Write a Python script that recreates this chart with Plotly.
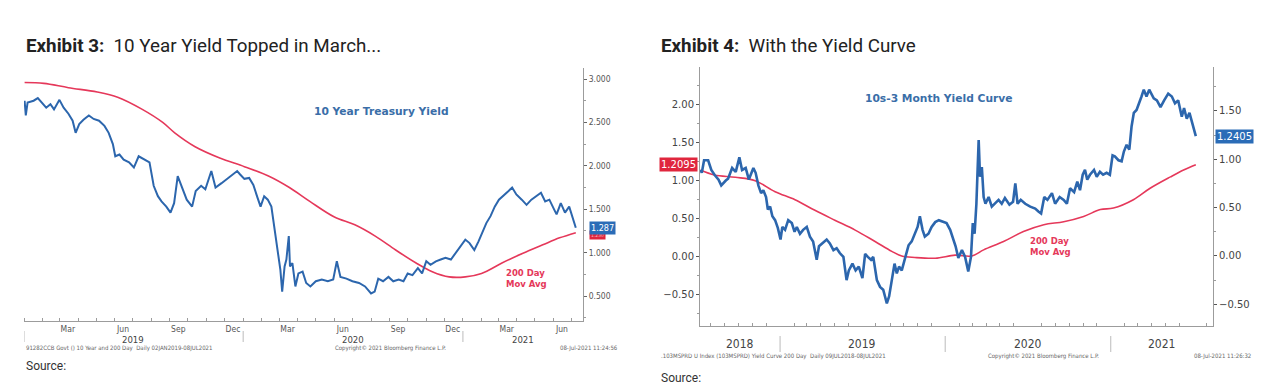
import plotly.graph_objects as go
import pandas as pd

# ---------------- Exhibit 3 data: 10 Year Treasury Yield ----------------
ust10_dates = [
    "2019-01-02", "2019-01-04", "2019-01-07", "2019-01-17", "2019-01-24", "2019-01-31", "2019-02-07",
    "2019-02-14", "2019-02-20", "2019-03-01", "2019-03-08", "2019-03-16", "2019-03-23", "2019-03-28",
    "2019-04-03", "2019-04-10", "2019-04-19", "2019-04-27", "2019-05-06", "2019-05-15", "2019-05-22",
    "2019-05-29", "2019-06-02", "2019-06-09", "2019-06-16", "2019-06-25", "2019-07-03", "2019-07-11",
    "2019-07-20", "2019-07-29", "2019-08-05", "2019-08-12", "2019-08-18", "2019-08-26", "2019-09-02",
    "2019-09-08", "2019-09-14", "2019-09-21", "2019-09-29", "2019-10-08", "2019-10-14", "2019-10-23",
    "2019-10-30", "2019-11-09", "2019-11-16", "2019-11-26", "2019-12-07", "2019-12-13", "2019-12-22",
    "2019-12-27", "2020-01-03", "2020-01-11", "2020-01-18", "2020-01-25", "2020-01-30", "2020-02-05",
    "2020-02-11", "2020-02-17", "2020-02-23", "2020-02-28", "2020-03-03", "2020-03-06", "2020-03-10",
    "2020-03-13", "2020-03-17", "2020-03-19", "2020-03-23", "2020-03-28", "2020-04-02", "2020-04-09",
    "2020-04-15", "2020-04-22", "2020-05-01", "2020-05-11", "2020-05-21", "2020-05-30", "2020-06-05",
    "2020-06-11", "2020-06-21", "2020-07-01", "2020-07-12", "2020-07-22", "2020-08-01", "2020-08-07",
    "2020-08-13", "2020-08-21", "2020-08-30", "2020-09-07", "2020-09-16", "2020-09-24", "2020-10-01",
    "2020-10-09", "2020-10-18", "2020-10-25", "2020-11-01", "2020-11-08", "2020-11-17", "2020-11-25",
    "2020-12-03", "2020-12-12", "2020-12-21", "2020-12-29", "2021-01-05", "2021-01-12", "2021-01-20",
    "2021-01-27", "2021-02-02", "2021-02-09", "2021-02-16", "2021-02-23", "2021-03-02", "2021-03-09",
    "2021-03-18", "2021-03-24", "2021-03-31", "2021-04-09", "2021-04-17", "2021-04-25", "2021-05-04",
    "2021-05-11", "2021-05-18", "2021-05-25", "2021-06-01", "2021-06-06", "2021-06-13", "2021-06-20",
    "2021-06-27", "2021-07-01", "2021-07-08",
]
ust10_vals = [
    2.75, 2.58, 2.73, 2.75, 2.78, 2.73, 2.67,
    2.71, 2.65, 2.76, 2.67, 2.60, 2.52, 2.38,
    2.48, 2.53, 2.58, 2.54, 2.52, 2.46, 2.38,
    2.25, 2.11, 2.13, 2.07, 2.04, 1.98, 2.11,
    2.07, 2.04, 1.77, 1.65, 1.59, 1.53, 1.46,
    1.57, 1.88, 1.75, 1.61, 1.53, 1.71, 1.77,
    1.73, 1.94, 1.75, 1.80, 1.86, 1.90, 1.94,
    1.90, 1.85, 1.86, 1.78, 1.63, 1.53, 1.65,
    1.61, 1.53, 1.26, 1.01, 0.80, 0.55, 0.84,
    0.92, 1.19, 0.84, 0.88, 0.61, 0.76, 0.78,
    0.65, 0.61, 0.67, 0.69, 0.67, 0.69, 0.90,
    0.72, 0.70, 0.67, 0.65, 0.61, 0.53, 0.55,
    0.70, 0.67, 0.72, 0.67, 0.69, 0.67, 0.76,
    0.74, 0.82, 0.76, 0.90, 0.86, 0.90, 0.92,
    0.94, 0.92, 1.01, 1.09, 1.15, 1.11, 1.03,
    1.13, 1.23, 1.34, 1.42, 1.53, 1.61, 1.65,
    1.71, 1.75, 1.67, 1.61, 1.55, 1.61, 1.65,
    1.69, 1.59, 1.61, 1.51, 1.44, 1.57, 1.46,
    1.53, 1.44, 1.287,
]
ust10_ma_dates = [
    "2019-01-02", "2019-02-03", "2019-03-16", "2019-05-03", "2019-06-06", "2019-07-17", "2019-08-20",
    "2019-09-09", "2019-10-13", "2019-11-23", "2020-01-03", "2020-02-13", "2020-03-18", "2020-04-21",
    "2020-06-01", "2020-07-05", "2020-08-08", "2020-09-11", "2020-10-15", "2020-11-11", "2020-12-09",
    "2021-01-05", "2021-02-01", "2021-03-07", "2021-04-10", "2021-05-14", "2021-06-11", "2021-07-08",
]
ust10_ma_vals = [
    2.96, 2.95, 2.90, 2.85, 2.79, 2.65, 2.50,
    2.38, 2.22, 2.09, 1.99, 1.88, 1.75, 1.59,
    1.41, 1.32, 1.19, 1.03, 0.88, 0.78, 0.72,
    0.72, 0.76, 0.88, 0.99, 1.09, 1.17, 1.23,
]

# ---------------- Exhibit 4 data: 10s-3 Month Yield Curve ----------------
curve_dates = [
    "2018-07-09", "2018-07-12", "2018-07-17", "2018-07-26", "2018-08-02", "2018-08-09", "2018-08-18",
    "2018-08-24", "2018-09-03", "2018-09-08", "2018-09-17", "2018-09-25", "2018-10-03", "2018-10-09",
    "2018-10-17", "2018-10-24", "2018-11-03", "2018-11-08", "2018-11-14", "2018-11-20", "2018-11-25",
    "2018-12-01", "2018-12-05", "2018-12-10", "2018-12-15", "2018-12-21", "2018-12-27", "2019-01-02",
    "2019-01-06", "2019-01-12", "2019-01-19", "2019-01-27", "2019-02-02", "2019-02-07", "2019-02-14",
    "2019-02-21", "2019-03-01", "2019-03-08", "2019-03-15", "2019-03-23", "2019-03-28", "2019-04-04",
    "2019-04-14", "2019-04-21", "2019-04-29", "2019-05-06", "2019-05-13", "2019-05-21", "2019-05-28",
    "2019-06-02", "2019-06-10", "2019-06-17", "2019-06-24", "2019-07-02", "2019-07-08", "2019-07-14",
    "2019-07-21", "2019-07-26", "2019-08-03", "2019-08-10", "2019-08-17", "2019-08-25", "2019-08-30",
    "2019-09-05", "2019-09-11", "2019-09-16", "2019-09-21", "2019-09-27", "2019-10-04", "2019-10-12",
    "2019-10-19", "2019-10-26", "2019-11-01", "2019-11-06", "2019-11-12", "2019-11-17", "2019-11-25",
    "2019-12-02", "2019-12-10", "2019-12-18", "2019-12-28", "2020-01-04", "2020-01-12", "2020-01-19",
    "2020-01-24", "2020-01-30", "2020-02-07", "2020-02-14", "2020-02-21", "2020-02-27", "2020-03-02",
    "2020-03-06", "2020-03-10", "2020-03-15", "2020-03-18", "2020-03-22", "2020-03-26", "2020-03-30",
    "2020-04-06", "2020-04-13", "2020-04-20", "2020-04-28", "2020-05-05", "2020-05-12", "2020-05-22",
    "2020-05-30", "2020-06-04", "2020-06-09", "2020-06-16", "2020-06-26", "2020-07-07", "2020-07-18",
    "2020-07-25", "2020-07-31", "2020-08-07", "2020-08-14", "2020-08-24", "2020-08-31", "2020-09-10",
    "2020-09-19", "2020-09-26", "2020-10-03", "2020-10-12", "2020-10-19", "2020-10-25", "2020-10-31",
    "2020-11-05", "2020-11-10", "2020-11-16", "2020-11-25", "2020-12-01", "2020-12-08", "2020-12-15",
    "2020-12-23", "2020-12-30", "2021-01-05", "2021-01-10", "2021-01-18", "2021-01-25", "2021-01-30",
    "2021-02-05", "2021-02-11", "2021-02-16", "2021-02-21", "2021-02-27", "2021-03-05", "2021-03-10",
    "2021-03-15", "2021-03-21", "2021-03-27", "2021-04-01", "2021-04-06", "2021-04-13", "2021-04-21",
    "2021-04-29", "2021-05-08", "2021-05-16", "2021-05-23", "2021-05-30", "2021-06-07", "2021-06-12",
    "2021-06-18", "2021-06-24", "2021-06-29", "2021-07-08",
]
curve_vals = [
    0.89, 0.86, 0.99, 0.99, 0.89, 0.84, 0.79,
    0.73, 0.78, 0.80, 0.91, 0.87, 1.02, 0.89,
    0.91, 0.79, 0.91, 0.86, 0.73, 0.65, 0.68,
    0.61, 0.48, 0.51, 0.41, 0.37, 0.29, 0.17,
    0.30, 0.27, 0.37, 0.34, 0.25, 0.30, 0.23,
    0.27, 0.30, 0.20, 0.15, -0.04, 0.10, 0.13,
    0.17, 0.13, 0.06, 0.08, 0.03, -0.01, -0.25,
    -0.15, -0.08, -0.15, -0.11, -0.23, 0.02, -0.01,
    -0.04, -0.01, -0.25, -0.32, -0.35, -0.49, -0.42,
    -0.25, -0.08, -0.18, -0.11, -0.15, -0.04, 0.11,
    0.15, 0.23, 0.30, 0.41, 0.27, 0.20, 0.23,
    0.30, 0.35, 0.37, 0.35, 0.34, 0.27, 0.17,
    0.10, -0.02, 0.06, -0.01, -0.16, -0.01, 0.34,
    0.23, 0.54, 1.20, 0.82, 0.92, 0.61, 0.54,
    0.61, 0.51, 0.54, 0.58, 0.54, 0.60, 0.53,
    0.56, 0.75, 0.54, 0.58, 0.54, 0.51, 0.49,
    0.46, 0.44, 0.61, 0.58, 0.65, 0.54, 0.61,
    0.58, 0.54, 0.70, 0.66, 0.77, 0.68, 0.84,
    0.89, 0.79, 0.84, 0.89, 0.82, 0.87, 0.84,
    0.86, 0.84, 1.04, 1.03, 0.99, 0.98, 1.08,
    1.15, 1.10, 1.34, 1.48, 1.51, 1.58, 1.65,
    1.72, 1.65, 1.72, 1.68, 1.63, 1.61, 1.54,
    1.61, 1.68, 1.65, 1.58, 1.61, 1.44, 1.53,
    1.42, 1.48, 1.39, 1.2405,
]
curve_ma_dates = [
    "2018-07-09", "2018-08-09", "2018-09-24", "2018-11-07", "2018-12-21", "2019-02-03", "2019-03-19",
    "2019-05-02", "2019-06-16", "2019-07-30", "2019-09-05", "2019-09-27", "2019-10-26", "2019-12-10",
    "2020-01-23", "2020-02-29", "2020-03-26", "2020-05-09", "2020-06-22", "2020-08-06", "2020-09-19",
    "2020-11-02", "2020-12-09", "2021-01-07", "2021-02-20", "2021-03-29", "2021-05-13", "2021-06-11",
    "2021-07-08",
]
curve_ma_vals = [
    1.14, 1.075, 1.045, 1.00, 0.855, 0.75, 0.61,
    0.48, 0.35, 0.20, 0.07, 0.01, -0.01, -0.02,
    0.02, 0.01, 0.09, 0.20, 0.33, 0.42, 0.46,
    0.53, 0.62, 0.64, 0.75, 0.90, 1.05, 1.14,
    1.2095,
]

# axis tick values / labels
left_month_ticks = ["2019-03-15", "2019-06-15", "2019-09-15", "2019-12-15", "2020-03-15", "2020-06-15",
                    "2020-09-15", "2020-12-15", "2021-03-15", "2021-06-15"]
left_month_labels = ["Mar", "Jun", "Sep", "Dec", "Mar", "Jun", "Sep", "Dec", "Mar", "Jun"]
left_years = [2019, 2020, 2021]
right_years = [2018, 2019, 2020, 2021]
ex3_yticks = [0.5, 1.0, 1.5, 2.0, 2.5, 3.0]
ex4_left_yticks = [-0.5, 0.0, 0.5, 1.0, 1.5, 2.0]
ex4_right_yticks = [-0.5, 0.0, 0.5, 1.0, 1.5]

BLUE = "#2c66ad"
RED = "#e5385a"
AX = "#9c9c9c"
TICKC = "#555555"
W, H = 1280, 392

def px(x):
    return x / W

def py(y):
    return 1 - y / H

NARROW = "Liberation Sans Narrow, DejaVu Sans Condensed, Arial Narrow, sans-serif"
BBG = "DejaVu Sans, Verdana, sans-serif"

x1_range = ["2019-01-01", "2021-07-20"]
x2_range = ["2018-07-08", "2021-08-15"]

fig = go.Figure()
fig.add_trace(go.Scatter(x=ust10_ma_dates, y=ust10_ma_vals, mode="lines",
                         line=dict(color=RED, width=1.6, shape="spline", smoothing=1.0),
                         xaxis="x", yaxis="y"))
fig.add_trace(go.Scatter(x=ust10_dates, y=ust10_vals, mode="lines", line=dict(color=BLUE, width=2),
                         xaxis="x", yaxis="y"))
fig.add_trace(go.Scatter(x=curve_ma_dates, y=curve_ma_vals, mode="lines",
                         line=dict(color=RED, width=1.6, shape="spline", smoothing=1.0),
                         xaxis="x2", yaxis="y2"))
fig.add_trace(go.Scatter(x=curve_dates, y=curve_vals, mode="lines", line=dict(color=BLUE, width=2.6),
                         xaxis="x2", yaxis="y3"))

quarter = [v + 0.25 for v in ex3_yticks] + [ex3_yticks[0] - 0.25]
fig.update_layout(
    width=W, height=H, margin=dict(l=0, r=0, t=0, b=0),
    paper_bgcolor="white", plot_bgcolor="white", showlegend=False,
    xaxis=dict(domain=[px(24), px(583)], anchor="y", type="date", range=x1_range,
               tickmode="array", tickvals=left_month_ticks, ticktext=left_month_labels, ticks="",
               tickfont=dict(family=NARROW, size=8.5, color=TICKC),
               showline=True, linecolor=AX, linewidth=1, showgrid=False, zeroline=False,
               minor=dict(dtick="M1", tick0="2019-01-01", ticks="inside", ticklen=3, tickcolor=AX, showgrid=False)),
    yaxis=dict(domain=[py(321), py(68)], anchor="x", side="right", range=[0.212, 3.127],
               tickmode="array", tickvals=ex3_yticks, tickformat=".3f", ticks="outside", ticklen=3, tickcolor="#666",
               tickfont=dict(family=NARROW, size=8.5, color=TICKC),
               showline=True, linecolor=AX, showgrid=False, zeroline=False,
               minor=dict(tickmode="array", tickvals=quarter, ticks="outside", ticklen=2, tickcolor=AX)),
    xaxis2=dict(domain=[px(700), px(1213)], anchor="y2", type="date", range=x2_range,
                showticklabels=False, ticks="", showline=True, linecolor=AX, showgrid=False, zeroline=False,
                minor=dict(dtick="M1", tick0="2018-08-01", ticks="inside", ticklen=3, tickcolor=AX, showgrid=False)),
    yaxis2=dict(domain=[py(326), py(67)], anchor="x2", side="left", range=[-0.912, 2.496],
                tickmode="array", tickvals=ex4_left_yticks, tickformat=".2f", ticks="outside", ticklen=3, tickcolor="#555",
                tickfont=dict(family=BBG, size=10, color="#444"),
                showline=True, linecolor=AX, showgrid=False, zeroline=False,
                minor=dict(tickmode="array", tickvals=[v + 0.25 for v in ex4_left_yticks] + [-0.75],
                           ticks="outside", ticklen=2, tickcolor=AX)),
    yaxis3=dict(overlaying="y2", anchor="x2", side="right", range=[-0.725, 1.955],
                tickmode="array", tickvals=ex4_right_yticks, tickformat=".2f", ticks="outside", ticklen=3, tickcolor="#555",
                tickfont=dict(family=BBG, size=10, color="#444"),
                showline=True, linecolor=AX, showgrid=False, zeroline=False,
                minor=dict(tickmode="array", tickvals=[v + 0.25 for v in ex4_right_yticks],
                           ticks="outside", ticklen=2, tickcolor=AX)),
)

ann = []
shapes = []

def add_text(x, y, text, font, xanchor="center", xref="paper", yref="paper", **kw):
    ann.append(dict(x=x, y=y, xref=xref, yref=yref, text=text, showarrow=False, font=font,
                    xanchor=xanchor, yanchor="middle", **kw))

def year_marks(years, rng, xref, y_label, y0, y1, size, include_start):
    start, end = pd.Timestamp(rng[0]), pd.Timestamp(rng[1])
    for yr in years:
        a = max(pd.Timestamp(f"{yr}-01-01"), start)
        b = min(pd.Timestamp(f"{yr + 1}-01-01"), end)
        mid = a + (b - a) / 2
        add_text(mid.strftime("%Y-%m-%d"), py(y_label), str(yr),
                 dict(family=NARROW, size=size, color="#444"), xref=xref)
        boundary = pd.Timestamp(f"{yr}-01-01")
        if start < boundary < end or (include_start and yr == years[0]):
            xb = boundary if start < boundary else start
            shapes.append(dict(type="line", xref=xref, yref="paper", x0=xb.strftime("%Y-%m-%d"),
                               x1=xb.strftime("%Y-%m-%d"), y0=py(y0), y1=py(y1),
                               line=dict(color="#bbbbbb", width=1)))

year_marks(left_years, x1_range, "x", 339, 331, 342, 9.5, True)
year_marks(right_years, x2_range, "x2", 344, 336, 352, 12, False)

# Titles
TITLE = dict(family="Roboto, sans-serif", size=18.8, color="#222")
add_text(px(24), py(46), "<b>Exhibit 3:</b>\u00a0\u00a010 Year Yield Topped in March...", TITLE, xanchor="left")
add_text(px(659), py(46), "<b>Exhibit 4:</b>\u00a0\u00a0With the Yield Curve", TITLE, xanchor="left")

# In-chart labels
add_text(px(381), py(111), "<b>10 Year Treasury Yield</b>", dict(family=BBG, size=10.7, color="#3a6ea8"))
add_text(px(526), py(278), "<b>200 Day<br>Mov Avg</b>", dict(family=BBG, size=8.5, color=RED), align="left")
add_text(px(938), py(99), "<b>10s-3 Month Yield Curve</b>", dict(family=BBG, size=10.7, color="#3a6ea8"))
add_text(px(1050), py(247), "<b>200 Day<br>Mov Avg</b>", dict(family=BBG, size=8.5, color=RED), align="left")

# Last-value tags
add_text(px(589), 1.20, "1.230", dict(family=NARROW, size=5, color="#f4b4bf"), xanchor="left", yref="y",
         bgcolor="#e0263d", borderpad=1)
add_text(px(589), ust10_vals[-1], f"{ust10_vals[-1]:.3f}", dict(family=NARROW, size=9, color="white"),
         xanchor="left", yref="y", bgcolor="#2a6cb7", borderpad=1)
add_text(px(698), curve_ma_vals[-1], f"{curve_ma_vals[-1]:.4f}", dict(family=BBG, size=10, color="white"),
         xanchor="right", yref="y2", bgcolor="#e0263d", borderpad=1)
add_text(px(1215), curve_vals[-1], f"{curve_vals[-1]:.4f}", dict(family=BBG, size=10, color="white"),
         xanchor="left", yref="y3", bgcolor="#2a6cb7", borderpad=1)

# Footers
foot = dict(family=NARROW, size=6, color="#666")
add_text(px(24), py(348), "91282CCB Govt () 10 Year and 200 Day\u00a0\u00a0Daily 02JAN2019-08JUL2021", foot, xanchor="left")
add_text(px(390), py(348), "Copyright\u00a9 2021 Bloomberg Finance L.P.", foot)
add_text(px(620), py(348), "08-Jul-2021 11:24:56", foot, xanchor="right")
add_text(px(659), py(356), ".103MSPRD U Index (103MSPRD) Yield Curve 200 Day\u00a0\u00a0Daily 09JUL2018-08JUL2021",
         foot, xanchor="left")
add_text(px(1043), py(356), "Copyright\u00a9 2021 Bloomberg Finance L.P.", foot)
add_text(px(1253), py(356), "08-Jul-2021 11:26:32", foot, xanchor="right")

SRC = dict(family="Roboto, sans-serif", size=12, color="#333")
add_text(px(24), py(366), "Source:", SRC, xanchor="left")
add_text(px(659), py(378), "Source:", SRC, xanchor="left")

fig.update_layout(annotations=ann, shapes=shapes)
fig.write_html("out.html", config={"displayModeBar": False},
               post_script="document.body.style.margin='0';document.body.style.overflow='hidden';")
